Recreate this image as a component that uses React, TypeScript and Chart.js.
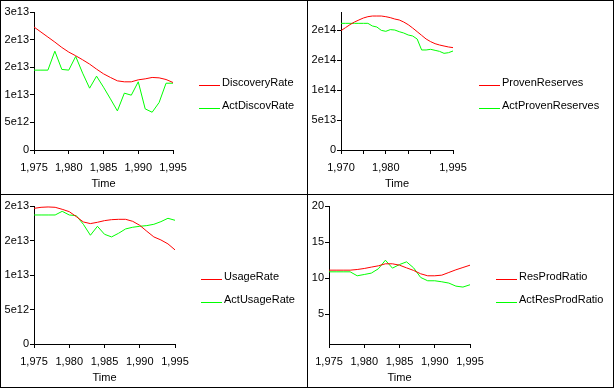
import React, { useEffect, useRef } from 'react';
import { Chart, registerables } from 'chart.js';

Chart.register(...registerables);

// ---------- data ----------
const YEARS_75 = [1975, 1976, 1977, 1978, 1979, 1980, 1981, 1982, 1983, 1984, 1985, 1986, 1987, 1988, 1989, 1990, 1991, 1992, 1993, 1994, 1995];
const YEARS_70 = [1970, 1971, 1972, 1973, 1974, 1975, 1976, 1977, 1978, 1979, 1980, 1981, 1982, 1983, 1984, 1985, 1986, 1987, 1988, 1989, 1990, 1991, 1992, 1993, 1994, 1995];

const DISCOVERY_RATE = [2.228e13, 2.137e13, 2.046e13, 1.955e13, 1.858e13, 1.774e13, 1.707e13, 1.634e13, 1.556e13, 1.465e13, 1.38e13, 1.314e13, 1.253e13, 1.235e13, 1.235e13, 1.271e13, 1.289e13, 1.314e13, 1.307e13, 1.277e13, 1.223e13];
const ACT_DISCOV_RATE = [1.447e13, 1.447e13, 1.447e13, 1.79e13, 1.46e13, 1.447e13, 1.695e13, 1.392e13, 1.12e13, 1.338e13, 1.138e13, 0.926e13, 0.708e13, 1.03e13, 0.993e13, 1.235e13, 0.745e13, 0.684e13, 0.86e13, 1.21e13, 1.21e13];

const PROVEN_RESERVES = [1.989e14, 2.039e14, 2.089e14, 2.133e14, 2.167e14, 2.2e14, 2.222e14, 2.233e14, 2.233e14, 2.233e14, 2.222e14, 2.206e14, 2.183e14, 2.167e14, 2.133e14, 2.089e14, 2.033e14, 1.972e14, 1.911e14, 1.85e14, 1.806e14, 1.772e14, 1.75e14, 1.733e14, 1.717e14, 1.706e14];
const ACT_PROVEN_RESERVES = [2.111e14, 2.111e14, 2.111e14, 2.111e14, 2.111e14, 2.111e14, 2.111e14, 2.067e14, 2.05e14, 1.994e14, 1.978e14, 2.006e14, 2.0e14, 1.972e14, 1.95e14, 1.917e14, 1.9e14, 1.85e14, 1.667e14, 1.667e14, 1.678e14, 1.661e14, 1.644e14, 1.611e14, 1.622e14, 1.65e14];

const USAGE_RATE = [1.966e13, 1.981e13, 1.986e13, 1.981e13, 1.952e13, 1.918e13, 1.846e13, 1.769e13, 1.745e13, 1.764e13, 1.788e13, 1.802e13, 1.807e13, 1.807e13, 1.778e13, 1.72e13, 1.634e13, 1.552e13, 1.508e13, 1.451e13, 1.364e13];
const ACT_USAGE_RATE = [1.87e13, 1.87e13, 1.87e13, 1.87e13, 1.923e13, 1.87e13, 1.86e13, 1.735e13, 1.576e13, 1.706e13, 1.59e13, 1.552e13, 1.605e13, 1.668e13, 1.692e13, 1.706e13, 1.716e13, 1.735e13, 1.773e13, 1.822e13, 1.793e13];

const RES_PROD_RATIO = [11.12, 11.12, 11.12, 11.12, 11.21, 11.35, 11.54, 11.72, 12.0, 12.0, 11.81, 11.44, 11.08, 10.62, 10.34, 10.34, 10.43, 10.8, 11.17, 11.49, 11.81];
const ACT_RES_PROD_RATIO = [10.89, 10.89, 10.89, 10.89, 10.34, 10.52, 10.71, 11.31, 12.5, 11.4, 11.9, 12.27, 11.44, 10.11, 9.65, 9.65, 9.51, 9.33, 8.91, 8.78, 9.1];

// tick values and labels
const X_TICKS_75 = [1975, 1980, 1985, 1990, 1995];
const X_LABELS_75 = ['1,975', '1,980', '1,985', '1,990', '1,995'];
const X_TICKS_70 = [1970, 1975, 1980, 1985, 1990, 1995];
const X_LABELS_70 = ['1,970', '', '1,980', '', '', '1,995'];

const Y_TICKS_1 = [0, 5e12, 1e13, 1.5e13, 2e13, 2.5e13];
const Y_LABELS_1 = ['0', '5e12', '1e13', '2e13', '2e13', '3e13'];
const Y_TICKS_2 = [0, 5e13, 1e14, 1.5e14, 2e14];
const Y_LABELS_2 = ['0', '5e13', '1e14', '2e14', '2e14'];
const Y_TICKS_3 = [0, 5e12, 1e13, 1.5e13, 2e13];
const Y_LABELS_3 = ['0', '5e12', '1e13', '2e13', '2e13'];
const Y_TICKS_4 = [5, 10, 15, 20];
const Y_LABELS_4 = ['5', '10', '15', '20'];

const RED = '#ff0000';
const GREEN = '#00ff00';
const FONT = '"Liberation Sans", Arial, sans-serif';

Chart.defaults.font.family = FONT;
Chart.defaults.font.size = 11;
Chart.defaults.color = '#000';

type Panel = {
  left: number; top: number; width: number; height: number;
  area: { l: number; r: number; t: number; b: number };
  xs: number[]; s1: number[]; s2: number[]; names: [string, string];
  xMin: number; xMax: number; xTicks: number[]; xLabels: string[];
  yMin: number; yMax: number; yTicks: number[]; yLabels: string[];
  legendX: number;
};

const PANELS: Panel[] = [
  {
    left: 0, top: 0, width: 307, height: 194, area: { l: 34, r: 173, t: 12, b: 150 },
    xs: YEARS_75, s1: DISCOVERY_RATE, s2: ACT_DISCOV_RATE, names: ['DiscoveryRate', 'ActDiscovRate'],
    xMin: 1975, xMax: 1995, xTicks: X_TICKS_75, xLabels: X_LABELS_75,
    yMin: 0, yMax: 2.5e13, yTicks: Y_TICKS_1, yLabels: Y_LABELS_1, legendX: 199,
  },
  {
    left: 307, top: 0, width: 307, height: 194, area: { l: 34, r: 146, t: 12, b: 150 },
    xs: YEARS_70, s1: PROVEN_RESERVES, s2: ACT_PROVEN_RESERVES, names: ['ProvenReserves', 'ActProvenReserves'],
    xMin: 1970, xMax: 1995, xTicks: X_TICKS_70, xLabels: X_LABELS_70,
    yMin: 0, yMax: 2.3e14, yTicks: Y_TICKS_2, yLabels: Y_LABELS_2, legendX: 172,
  },
  {
    left: 0, top: 194, width: 307, height: 194, area: { l: 34, r: 175, t: 12, b: 150 },
    xs: YEARS_75, s1: USAGE_RATE, s2: ACT_USAGE_RATE, names: ['UsageRate', 'ActUsageRate'],
    xMin: 1975, xMax: 1995, xTicks: X_TICKS_75, xLabels: X_LABELS_75,
    yMin: 0, yMax: 2e13, yTicks: Y_TICKS_3, yLabels: Y_LABELS_3, legendX: 201,
  },
  {
    left: 307, top: 194, width: 307, height: 194, area: { l: 22, r: 163, t: 12, b: 150 },
    xs: YEARS_75, s1: RES_PROD_RATIO, s2: ACT_RES_PROD_RATIO, names: ['ResProdRatio', 'ActResProdRatio'],
    xMin: 1975, xMax: 1995, xTicks: X_TICKS_75, xLabels: X_LABELS_75,
    yMin: 0.9, yMax: 20, yTicks: Y_TICKS_4, yLabels: Y_LABELS_4, legendX: 189,
  },
];

const sideLegend = {
  id: 'sideLegend',
  afterDraw(chart: any, _args: any, opts: any) {
    const ctx = chart.ctx as CanvasRenderingContext2D;
    ctx.save();
    ctx.font = `11px ${FONT}`;
    ctx.textBaseline = 'alphabetic';
    ctx.textAlign = 'left';
    (opts.items || []).forEach((it: any) => {
      ctx.strokeStyle = it.color;
      ctx.lineWidth = 1;
      ctx.beginPath();
      ctx.moveTo(opts.x, it.y + 0.5);
      ctx.lineTo(opts.x + 21, it.y + 0.5);
      ctx.stroke();
      ctx.fillStyle = '#000';
      ctx.fillText(it.text, opts.x + 23, it.y + 1);
    });
    ctx.restore();
  },
};

function PanelChart({ p }: { p: Panel }) {
  const ref = useRef<HTMLCanvasElement>(null);
  useEffect(() => {
    if (!ref.current) return;
    const { area, width, height } = p;
    const chart = new Chart(ref.current, {
      type: 'line',
      data: {
        datasets: [
          { label: p.names[0], data: p.xs.map((x, i) => ({ x, y: p.s1[i] })), borderColor: RED, borderWidth: 1, pointRadius: 0, tension: 0, fill: false },
          { label: p.names[1], data: p.xs.map((x, i) => ({ x, y: p.s2[i] })), borderColor: GREEN, borderWidth: 1, pointRadius: 0, tension: 0, fill: false },
        ],
      },
      options: {
        animation: false,
        responsive: false,
        maintainAspectRatio: false,
        events: [],
        layout: { padding: { left: 0, top: area.t, right: width - area.r, bottom: 0 } },
        plugins: {
          legend: { display: false },
          tooltip: { enabled: false },
          sideLegend: {
            x: p.legendX,
            items: [
              { y: 85, color: RED, text: p.names[0] },
              { y: 108, color: GREEN, text: p.names[1] },
            ],
          },
        } as any,
        scales: {
          x: {
            type: 'linear',
            min: p.xMin,
            max: p.xMax,
            afterFit: (s: any) => { s.height = height - area.b; },
            afterBuildTicks: (s: any) => { s.ticks = p.xTicks.map((v) => ({ value: v })); },
            ticks: { autoSkip: false, maxRotation: 0, minRotation: 0, padding: 7, color: '#000', callback: (_v: any, i: number) => p.xLabels[i] },
            grid: { display: true, drawOnChartArea: false, drawTicks: true, tickLength: 4, color: '#000' },
            border: { display: true, color: '#000', width: 1 },
            title: { display: true, text: 'Time', color: '#000', padding: { top: 0, bottom: 3 } },
          },
          y: {
            type: 'linear',
            min: p.yMin,
            max: p.yMax,
            afterFit: (s: any) => { s.width = area.l; },
            afterBuildTicks: (s: any) => { s.ticks = p.yTicks.map((v) => ({ value: v })); },
            ticks: { autoSkip: false, padding: 1, color: '#000', callback: (_v: any, i: number) => p.yLabels[i] },
            grid: { display: true, drawOnChartArea: false, drawTicks: true, tickLength: 4, color: '#000' },
            border: { display: true, color: '#000', width: 1 },
          },
        },
      },
      plugins: [sideLegend as any],
    });
    return () => chart.destroy();
  }, [p]);
  return (
    <canvas
      ref={ref}
      width={p.width}
      height={p.height}
      style={{ position: 'absolute', left: p.left, top: p.top, width: p.width, height: p.height }}
    />
  );
}

export default function App() {
  const line = (s: React.CSSProperties) => <div style={{ position: 'absolute', background: '#000', ...s }} />;
  return (
    <div style={{ position: 'fixed', left: 0, top: 0, width: 615, height: 389, background: '#fff', overflow: 'hidden' }}>
      {PANELS.map((p, i) => <PanelChart key={i} p={p} />)}
      {line({ left: 0, top: 0, width: 614, height: 1 })}
      {line({ left: 0, top: 387, width: 614, height: 1 })}
      {line({ left: 0, top: 0, width: 1, height: 388 })}
      {line({ left: 613, top: 0, width: 1, height: 388 })}
      {line({ left: 307, top: 0, width: 1, height: 388 })}
      {line({ left: 0, top: 194, width: 614, height: 1 })}
    </div>
  );
}
